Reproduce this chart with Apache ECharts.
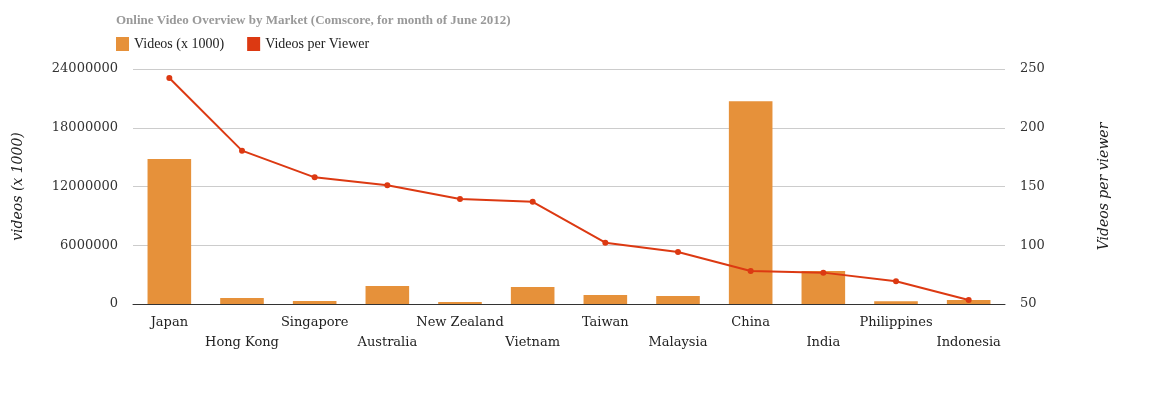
<!DOCTYPE html>
<html>
<head>
<meta charset="utf-8">
<script src="https://cdn.jsdelivr.net/npm/echarts@6/dist/echarts.min.js"></script>
<style>
  html, body { margin: 0; padding: 0; background: #fff; }
  #chart { width: 1166px; height: 401px; }
</style>
</head>
<body>
<div id="chart"></div>
<script>
  // 数据：Comscore 2012年6月
  var markets = ["Japan", "Hong Kong", "Singapore", "Australia", "New Zealand", "Vietnam",
                 "Taiwan", "Malaysia", "China", "India", "Philippines", "Indonesia"];
  var videos = [14800000, 620000, 300000, 1840000, 200000, 1740000,
                920000, 820000, 20700000, 3370000, 270000, 410000];
  var perViewer = [242.3, 180.5, 157.8, 151, 139.4, 137, 102.2, 94.3, 78.1, 76.7, 69.3, 53.4];

  var SERIF = "'DejaVu Serif', Georgia, serif";
  var chart = echarts.init(document.getElementById("chart"));
  chart.setOption({
    animation: false,
    title: {
      text: "Online Video Overview by Market (Comscore, for month of June 2012)",
      left: 116, top: 14, padding: 0,
      textStyle: { fontFamily: "'Liberation Serif', serif", fontSize: 13, fontWeight: "bold", color: "#999" }
    },
    legend: {
      left: 116, top: 37, padding: 0,
      itemWidth: 13, itemHeight: 14, itemGap: 23,
      icon: "rect",
      textStyle: { fontFamily: "'Liberation Serif', serif", fontSize: 14, color: "#222" },
      data: ["Videos (x 1000)", "Videos per Viewer"]
    },
    grid: { left: 133, right: 161, top: 69, bottom: 97 },
    xAxis: {
      type: "category",
      data: markets,
      axisTick: { show: false },
      axisLine: { lineStyle: { color: "#333", width: 1 } },
      axisLabel: {
        interval: 0, margin: 9,
        fontFamily: SERIF, fontSize: 13, color: "#222", lineHeight: 20,
        formatter: function (v, i) { return i % 2 ? "\n" + v : v; }
      }
    },
    yAxis: [{
      type: "value", min: 0, max: 24000000, interval: 6000000,
      name: "videos (x 1000)", nameLocation: "middle", nameGap: 108,
      nameTextStyle: { fontFamily: SERIF, fontStyle: "italic", fontSize: 14, color: "#222" },
      axisLabel: { margin: 15, fontFamily: SERIF, fontSize: 13, color: "#333",
                   formatter: function (v) { return String(v); } },
      axisLine: { show: false }, axisTick: { show: false },
      splitLine: { lineStyle: { color: "#ccc" } }
    }, {
      type: "value", min: 50, max: 250, interval: 50,
      name: "Videos per viewer", nameLocation: "middle", nameGap: 92, nameRotate: 90,
      nameTextStyle: { fontFamily: SERIF, fontStyle: "italic", fontSize: 14, color: "#222" },
      axisLabel: { margin: 15, fontFamily: SERIF, fontSize: 13, color: "#333",
                   formatter: function (v) { return String(v); } },
      axisLine: { show: false }, axisTick: { show: false },
      splitLine: { show: false }
    }],
    series: [{
      name: "Videos (x 1000)", type: "bar", yAxisIndex: 0,
      data: videos, barCategoryGap: "40%",
      itemStyle: { color: "#E6913A" }
    }, {
      name: "Videos per Viewer", type: "line", yAxisIndex: 1,
      data: perViewer, symbol: "circle", symbolSize: 6,
      lineStyle: { color: "#DC3912", width: 2 },
      itemStyle: { color: "#DC3912" }
    }]
  });
</script>
</body>
</html>
